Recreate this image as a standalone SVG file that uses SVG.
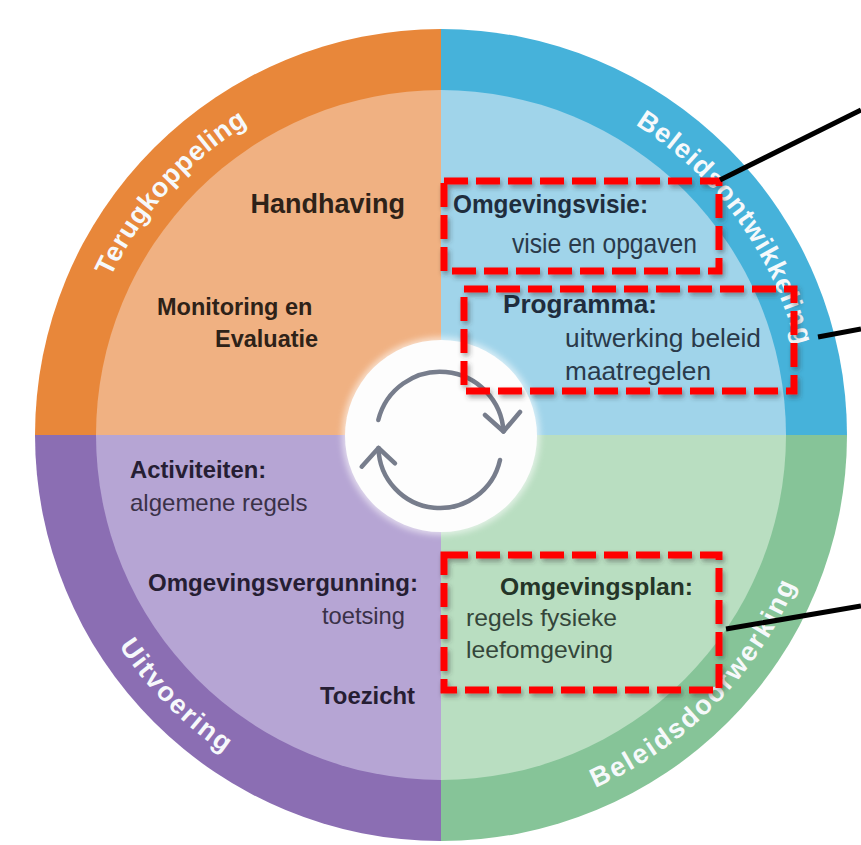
<svg xmlns="http://www.w3.org/2000/svg" width="861" height="845" viewBox="0 0 861 845">
<style>
text{font-family:"Liberation Sans",Arial,sans-serif}
.ring{font-size:27px;font-weight:bold;fill:#f6f9fb}
.b{font-weight:bold}
.box{fill:none;stroke:#ff0000;stroke-width:7;stroke-dasharray:24 8}
.conn{stroke:#000;stroke-width:5;fill:none}
.cyc{fill:none;stroke:#777d8c;stroke-width:4.5;stroke-linecap:round;stroke-linejoin:round}
</style>
<defs>
<filter id="sh" x="-10%" y="-10%" width="120%" height="130%">
<feDropShadow dx="2" dy="3" stdDeviation="2.5" flood-color="#333" flood-opacity="0.45"/>
</filter>
<filter id="glow" x="-20%" y="-20%" width="140%" height="140%">
<feGaussianBlur stdDeviation="3"/>
</filter>
<path id="pTeru" d="M75.5,454.8 A366,366 0 0 1 421.2,69.5"/>
<path id="pOnt" d="M498.3,73.5 A366,366 0 0 1 802.5,492.3"/>
<path id="pDoor" d="M444.4,820 A385,385 0 0 0 826,431.6"/>
<path id="pUit" d="M56,432.3 A385,385 0 0 0 438.3,820"/>
</defs>
<rect width="861" height="845" fill="#ffffff"/>

<g id="wheel">
<path d="M441,435 L35,435 A406,406 0 0 1 441,29 Z" fill="#e8873a"/>
<path d="M441,435 L441,29 A406,406 0 0 1 847,435 Z" fill="#46b2da"/>
<path d="M441,435 L847,435 A406,406 0 0 1 441,841 Z" fill="#86c498"/>
<path d="M441,435 L441,841 A406,406 0 0 1 35,435 Z" fill="#8b6eb3"/>
<path d="M441,435 L96,435 A345,345 0 0 1 441,90 Z" fill="#f0b182"/>
<path d="M441,435 L441,90 A345,345 0 0 1 786,435 Z" fill="#a0d4ea"/>
<path d="M441,435 L786,435 A345,345 0 0 1 441,780 Z" fill="#b9dec1"/>
<path d="M441,435 L441,780 A345,345 0 0 1 96,435 Z" fill="#b6a5d4"/>
</g>

<g id="ring-labels">
<text class="ring" letter-spacing="0.6"><textPath href="#pTeru" startOffset="50%" text-anchor="middle">Terugkoppeling</textPath></text>
<text class="ring" letter-spacing="1.1"><textPath href="#pOnt" startOffset="50%" text-anchor="middle">Beleidsontwikkeling</textPath></text>
<text class="ring" letter-spacing="2"><textPath href="#pDoor" startOffset="50%" text-anchor="middle">Beleidsdoorwerking</textPath></text>
<text class="ring" letter-spacing="1.9"><textPath href="#pUit" startOffset="50%" text-anchor="middle">Uitvoering</textPath></text>
</g>

<g id="center">
<circle cx="441" cy="436" r="99" fill="#ffffff" opacity="0.6" filter="url(#glow)"/>
<circle cx="441" cy="436" r="96" fill="#fdfdfd"/>
<path class="cyc" d="M378.3,420 A63.6,63.6 0 0 1 503.5,431.5"/>
<path class="cyc" d="M485,415 L503.5,431.5 L520,412"/>
<path class="cyc" d="M500,460 A61.5,61.5 0 0 1 378.5,448"/>
<path class="cyc" d="M361.7,466.7 L378.5,448 L395,463.3"/>
</g>

<g id="terugkoppeling-items" fill="#2e2218">
<text class="b" x="405" y="213" font-size="27" text-anchor="end">Handhaving</text>
<text class="b" x="157" y="315" font-size="23.5">Monitoring en</text>
<text class="b" x="215" y="347" font-size="23.5">Evaluatie</text>
</g>

<g id="omgevingsvisie">
<rect class="box" x="444" y="181" width="275" height="90" filter="url(#sh)"/>
<text class="b" x="453" y="213" font-size="26.5" textLength="195" lengthAdjust="spacingAndGlyphs" fill="#1f2d3d">Omgevingsvisie:</text>
<text x="512" y="253" font-size="27" textLength="185" lengthAdjust="spacingAndGlyphs" fill="#2a3a4a">visie en opgaven</text>
</g>

<g id="programma">
<rect class="box" x="464" y="289" width="330" height="102" filter="url(#sh)"/>
<text class="b" x="503" y="313" font-size="26" textLength="154" lengthAdjust="spacingAndGlyphs" fill="#1f2d3d">Programma:</text>
<text x="565" y="347" font-size="26" textLength="196" lengthAdjust="spacingAndGlyphs" fill="#2a3a4a">uitwerking beleid</text>
<text x="565" y="380" font-size="26" textLength="146" lengthAdjust="spacingAndGlyphs" fill="#2a3a4a">maatregelen</text>
</g>

<g id="omgevingsplan">
<rect class="box" x="444" y="555" width="275" height="135" filter="url(#sh)"/>
<text class="b" x="500" y="595" font-size="24.5" textLength="193" lengthAdjust="spacingAndGlyphs" fill="#243528">Omgevingsplan:</text>
<text x="466" y="626" font-size="24.5" textLength="151" lengthAdjust="spacingAndGlyphs" fill="#34463a">regels fysieke</text>
<text x="466" y="658" font-size="24.5" textLength="147" lengthAdjust="spacingAndGlyphs" fill="#34463a">leefomgeving</text>
</g>

<g id="uitvoering-items" fill="#261e33">
<text class="b" x="130" y="478" font-size="23.8">Activiteiten:</text>
<text x="130" y="511" font-size="24" fill="#3a3148">algemene regels</text>
<text class="b" x="148" y="591" font-size="24" textLength="270" lengthAdjust="spacingAndGlyphs">Omgevingsvergunning:</text>
<text x="322" y="624" font-size="23.7" fill="#3a3148">toetsing</text>
<text class="b" x="320" y="704" font-size="24" textLength="95" lengthAdjust="spacingAndGlyphs">Toezicht</text>
</g>

<g id="connectors">
<line class="conn" x1="720" y1="180" x2="861" y2="110"/>
<line class="conn" x1="818" y1="337" x2="861" y2="329"/>
<line class="conn" x1="726" y1="629" x2="861" y2="606"/>
</g>
</svg>
